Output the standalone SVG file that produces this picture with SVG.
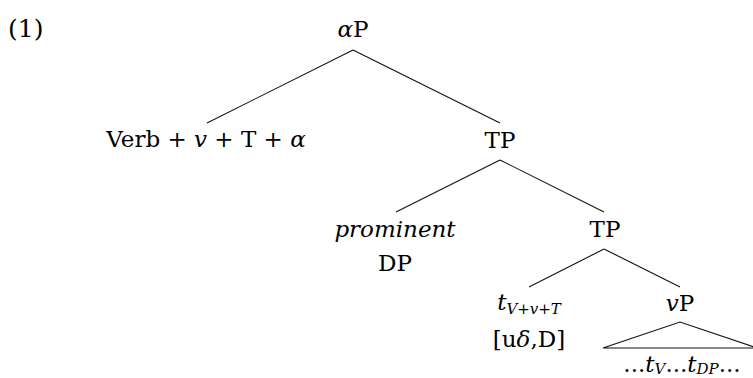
<svg xmlns="http://www.w3.org/2000/svg" width="753" height="378" viewBox="0 0 753 378">
<style>
text{font-family:"DejaVu Serif","Liberation Serif",serif;font-size:23px;fill:#000}
.m{text-anchor:middle}
.i{font-style:italic}
.s{font-size:15px;font-style:italic}
.e{stroke:#111;stroke-width:1.1;fill:none}
</style>
<rect width="753" height="378" fill="#fff"/>
<text x="8" y="37" style="font-size:25px">(1)</text>
<g id="connectors">
<line class="e" x1="353" y1="50" x2="207" y2="123"/>
<line class="e" x1="353" y1="50" x2="500" y2="123"/>
<line class="e" x1="500" y1="160" x2="396" y2="212"/>
<line class="e" x1="500" y1="160" x2="604" y2="212"/>
<line class="e" x1="604" y1="249" x2="529" y2="287"/>
<line class="e" x1="604" y1="249" x2="680" y2="287"/>
</g>
<g id="aP"><text class="m" x="353" y="37"><tspan class="i">α</tspan>P</text></g>
<g id="verb"><text class="m" x="206" y="147">Verb + <tspan class="i">v</tspan> + T + <tspan class="i">α</tspan></text></g>
<g id="TP1"><text class="m" x="500" y="148">TP</text></g>
<g id="DP"><text class="m i" x="395" y="237">prominent</text><text class="m" x="395" y="271">DP</text></g>
<g id="TP2"><text class="m" x="605" y="237">TP</text></g>
<g id="t"><text class="m" x="529" y="310"><tspan class="i">t</tspan><tspan class="s" dy="4">V+v+T</tspan></text><text class="m" x="529" y="347">[u<tspan class="i">δ</tspan>,D]</text></g>
<g id="vP"><text class="m" x="680" y="311"><tspan class="i">v</tspan>P</text>
<polygon class="e" points="603,348 680,322 757,348"/>
<text class="m" x="682" y="372">...<tspan class="i">t</tspan><tspan class="s" dy="2">V</tspan><tspan dy="-2">...</tspan><tspan class="i">t</tspan><tspan class="s" dy="2">DP</tspan><tspan dy="-2">...</tspan></text></g>
</svg>
